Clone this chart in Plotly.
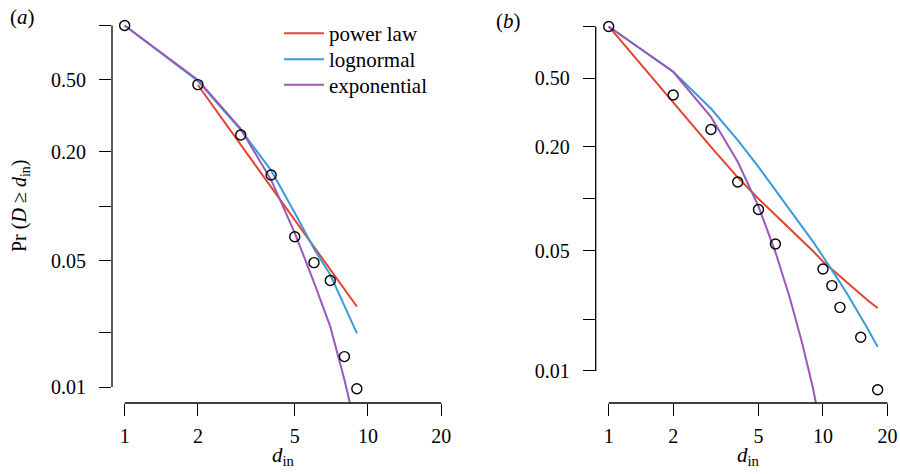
import math
import plotly.graph_objects as go

# ---------------- data ----------------
# panel (a)
a_deg = [1, 2, 3, 4, 5, 6, 7, 8, 9]
a_obs = [1.0, 0.471, 0.248, 0.149, 0.0678, 0.0488, 0.0389, 0.01475, 0.0098]
a_pl_x = [2, 3, 4, 5, 6, 7, 8, 9]
a_pl_y = [0.469, 0.219, 0.128, 0.084, 0.0597, 0.0447, 0.0348, 0.0279]
a_ln_x = [1, 2, 3, 4, 5, 6, 7, 8, 9]
a_ln_y = [1.0, 0.493, 0.265, 0.158, 0.092, 0.0582, 0.0418, 0.0284, 0.0199]
a_ex_x = [1, 2, 3, 4, 5, 6, 7, 8, 9]
a_ex_y = [1.0, 0.5, 0.268, 0.14, 0.0713, 0.038, 0.0216, 0.011, 0.0056]

# panel (b)
b_deg = [1, 2, 3, 4, 5, 6, 10, 11, 12, 15, 18]
b_obs = [1.0, 0.40, 0.252, 0.125, 0.0865, 0.0546, 0.0391, 0.0313, 0.0234, 0.0157, 0.00778]
b_fit_x = [1, 2, 3, 4, 5, 6, 7, 8, 9, 10, 11, 12, 13, 14, 15, 16, 17, 18]
b_pl_y = [1.0, 0.359, 0.200, 0.133, 0.100, 0.0804, 0.0668, 0.0575, 0.0495, 0.0432,
          0.0389, 0.0355, 0.0324, 0.0299, 0.0279, 0.0260, 0.0245, 0.0232]
b_ln_y = [1.0, 0.546, 0.334, 0.219, 0.153, 0.112, 0.0871, 0.0692, 0.0562, 0.0462,
          0.0389, 0.0327, 0.0279, 0.0240, 0.0207, 0.0180, 0.0157, 0.0138]
b_ex_x = [1, 2, 3, 4, 5, 6, 7, 8, 9, 10, 11, 12]
b_ex_y = [1.0, 0.546, 0.299, 0.164, 0.0902, 0.049, 0.0266, 0.0145, 0.00785, 0.00427,
          0.00232, 0.00126]

series_names = ["power law", "lognormal", "exponential"]
colors = ["#E4432F", "#3A9BDC", "#9A58B8"]

x_ticks = [1, 2, 5, 10, 20]
x_ticktext = ["1", "2", "5", "10", "20"]
y_ticks = [0.01, 0.05, 0.2, 0.5]
y_ticktext = ["0.01", "0.05", "0.20", "0.50"]
y_minor_ticks = [0.02, 0.1, 1]
y_span = [0.01, 1]

FONT = "Liberation Serif, Times New Roman, serif"
FS = 20
W, H = 900, 474

# ---------------- layout geometry ----------------
xa_range = [-0.052, 1.31]
ya_range = [-2.088, 0.03]
xb_range = [-0.0607, 1.31]
yb_range = [-2.186, 0.03]
xa_dom = [112 / W, 443.4 / W]
ya_dom = [(H - 403) / H, (H - 20.1) / H]
xb_dom = [595.7 / W, 889.4 / W]
yb_dom = [(H - 403) / H, (H - 21.3) / H]

fig = go.Figure()
legend_ids = ["legend", "legend2", "legend3"]


def add_panel(xax, yax, obs_x, obs_y, fits, legend):
    for (fx, fy), name, col, lg in zip(fits, series_names, colors, legend_ids):
        fig.add_trace(go.Scatter(
            x=fx, y=fy, mode="lines", name=name,
            line=dict(color=col, width=2),
            xaxis=xax, yaxis=yax, showlegend=legend, legend=lg, hoverinfo="skip"))
    fig.add_trace(go.Scatter(
        x=obs_x, y=obs_y, mode="markers", showlegend=False,
        marker=dict(symbol="circle-open", size=10, color="black",
                    line=dict(width=1.4, color="black")),
        xaxis=xax, yaxis=yax, cliponaxis=False))


add_panel("x", "y", a_deg, a_obs,
          [(a_pl_x, a_pl_y), (a_ln_x, a_ln_y), (a_ex_x, a_ex_y)], True)
add_panel("x2", "y2", b_deg, b_obs,
          [(b_fit_x, b_pl_y), (b_fit_x, b_ln_y), (b_ex_x, b_ex_y)], False)

axis_common = dict(type="log", showgrid=False, zeroline=False, showline=False,
                   automargin=False,
                   ticks="outside", ticklen=12, tickwidth=1.3, tickcolor="black",
                   tickfont=dict(family=FONT, size=FS, color="black"))
y_minor = dict(tickvals=y_minor_ticks, ticks="outside", ticklen=12, tickwidth=1.3,
               tickcolor="black", showgrid=False)

fig.update_layout(
    xaxis=dict(domain=xa_dom, range=xa_range, anchor="y",
               tickvals=x_ticks, ticktext=x_ticktext, ticklabelstandoff=3, **axis_common),
    yaxis=dict(domain=ya_dom, range=ya_range, anchor="x", minor=y_minor,
               tickvals=y_ticks, ticktext=y_ticktext, ticklabelstandoff=9, **axis_common),
    xaxis2=dict(domain=xb_dom, range=xb_range, anchor="y2",
                tickvals=x_ticks, ticktext=x_ticktext, ticklabelstandoff=3, **axis_common),
    yaxis2=dict(domain=yb_dom, range=yb_range, anchor="x2", minor=y_minor,
                tickvals=y_ticks, ticktext=y_ticktext, ticklabelstandoff=9, **axis_common),
)


def to_paper(v, rng, dom):
    return dom[0] + (math.log10(v) - rng[0]) / (rng[1] - rng[0]) * (dom[1] - dom[0])


# detached axis lines (R style)
shapes = []
for xr, yr, xd, yd in [(xa_range, ya_range, xa_dom, ya_dom), (xb_range, yb_range, xb_dom, yb_dom)]:
    shapes.append(dict(type="line", xref="paper", yref="paper",
                       x0=xd[0], x1=xd[0],
                       y0=to_paper(y_span[0], yr, yd), y1=to_paper(y_span[1], yr, yd),
                       line=dict(color="black", width=1.3)))
    shapes.append(dict(type="line", xref="paper", yref="paper",
                       x0=to_paper(x_ticks[0], xr, xd), x1=to_paper(x_ticks[-1], xr, xd),
                       y0=yd[0], y1=yd[0],
                       line=dict(color="black", width=1.3)))

annotations = [
    dict(text="(<i>a</i>)", x=22 / W, y=1 - 17 / H, xref="paper", yref="paper",
         showarrow=False, xanchor="center", yanchor="middle",
         font=dict(family=FONT, size=FS + 1, color="black")),
    dict(text="(<i>b</i>)", x=508 / W, y=1 - 21 / H, xref="paper", yref="paper",
         showarrow=False, xanchor="center", yanchor="middle",
         font=dict(family=FONT, size=FS + 1, color="black")),
    dict(text="<i>d</i><sub>in</sub>", x=283.2 / W, y=1 - 456 / H, xref="paper", yref="paper",
         showarrow=False, xanchor="center", yanchor="middle",
         font=dict(family=FONT, size=FS + 1, color="black")),
    dict(text="<i>d</i><sub>in</sub>", x=748 / W, y=1 - 456 / H, xref="paper", yref="paper",
         showarrow=False, xanchor="center", yanchor="middle",
         font=dict(family=FONT, size=FS + 1, color="black")),
    dict(text="Pr (<i>D</i> ≥ <i>d</i><sub>in</sub>)", x=20 / W, y=1 - 206 / H,
         xref="paper", yref="paper", textangle=-90,
         showarrow=False, xanchor="center", yanchor="middle",
         font=dict(family=FONT, size=FS, color="black")),
]

legend_rows = [33.5, 59.5, 85.0]
legend_style = dict(xanchor="left", yanchor="middle", bgcolor="rgba(0,0,0,0)",
                    borderwidth=0, font=dict(family=FONT, size=FS + 1, color="black"),
                    itemwidth=40)

fig.update_layout(
    width=W, height=H,
    margin=dict(l=0, r=0, t=0, b=0, autoexpand=False),
    paper_bgcolor="white", plot_bgcolor="white",
    shapes=shapes, annotations=annotations,
    showlegend=True,
    legend=dict(x=279 / W, y=1 - legend_rows[0] / H, **legend_style),
    legend2=dict(x=279 / W, y=1 - legend_rows[1] / H, **legend_style),
    legend3=dict(x=279 / W, y=1 - legend_rows[2] / H, **legend_style),
)

fig.write_html("out.html", config={"displayModeBar": False},
               post_script="document.body.style.margin='0';")
